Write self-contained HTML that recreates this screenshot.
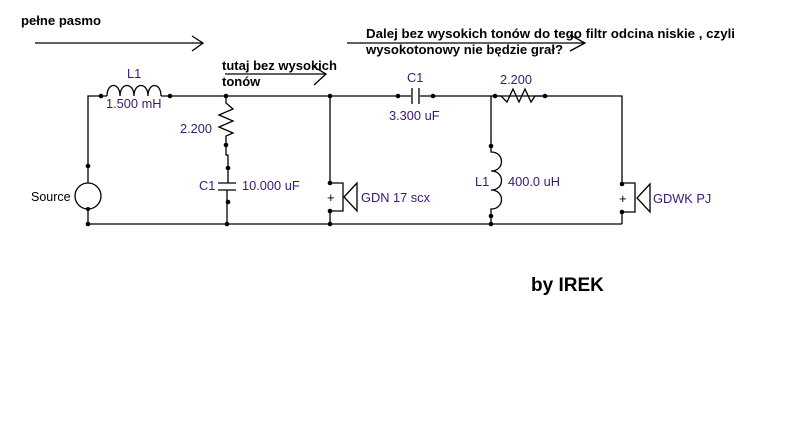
<!DOCTYPE html>
<html><head><meta charset="utf-8"><style>
html,body{margin:0;padding:0;background:#fff;}
svg{display:block;}
text{font-family:"Liberation Sans",sans-serif;}
.b{font-weight:bold;font-size:13px;fill:#000;}
.l{font-size:12.8px;fill:#3a1a70;}
</style></head><body>
<svg width="795" height="428" viewBox="0 0 795 428" xmlns="http://www.w3.org/2000/svg">
<g stroke="#000" stroke-width="1.3" fill="none">
<path d="M35 43H203M192 36L203 43L192 51"/>
<path d="M225 74H326M314 67L326 74L314 85"/>
<path d="M347 43H585M570 35L585 43L570 51"/>
<path d="M88 183V96H101"/>
<circle cx="88" cy="196" r="13"/>
<path d="M88 209V224H622"/>
<path d="M101 96H107 M107 96 C107 82,120 82,120 96 C120 82,134 82,134 96 C134 82,148 82,148 96 C148 82,161 82,161 96 M161 96H170"/>
<path d="M170 96H622V183"/>
<path d="M226 96V103L233 109L219 115L233 121L219 127L233 133L226 136V145V155H228V168V183"/>
<path d="M218 183H236M218 190H236M227 190V224"/>
<path d="M330 96V183H343V211H330V224"/>
<path d="M357 183L344 197L357 211Z"/>
<path d="M495 96L501 96L507 102L513 89L519 102L525 89L531 102L535 96H545"/>
<path d="M491 96V146V152 C505 152,505 171,491 171 C505 171,505 190,491 190 C505 190,505 209,491 209 V224"/>
<path d="M622 183H635V212H622V224"/>
<path d="M650 184L637 198L650 212Z"/>
</g>
<rect x="411" y="90" width="9" height="12" fill="#fff"/>
<path d="M412 88V104M419 88V104" stroke="#000" stroke-width="1.3"/>
<g fill="#000">
<circle cx="88" cy="166" r="2.3"/><circle cx="88" cy="224" r="2.3"/><circle cx="88" cy="209" r="2"/>
<circle cx="101" cy="96" r="2.3"/><circle cx="170" cy="96" r="2.3"/>
<circle cx="226" cy="96" r="2.3"/><circle cx="226" cy="145" r="2.3"/><circle cx="228" cy="168" r="2.3"/><circle cx="228" cy="202" r="2.3"/><circle cx="227" cy="224" r="2.3"/>
<circle cx="330" cy="96" r="2.3"/><circle cx="330" cy="183" r="2.3"/><circle cx="330" cy="211" r="2.3"/><circle cx="330" cy="224" r="2.3"/>
<circle cx="398" cy="96" r="2.3"/><circle cx="433" cy="96" r="2.3"/>
<circle cx="495" cy="96" r="2.3"/><circle cx="545" cy="96" r="2.3"/>
<circle cx="491" cy="146" r="2.3"/><circle cx="491" cy="216" r="2.3"/><circle cx="491" cy="224" r="2.3"/>
<circle cx="622" cy="184" r="2.3"/><circle cx="622" cy="212" r="2.3"/>
</g>
<text class="b" x="21" y="25" textLength="80" lengthAdjust="spacingAndGlyphs">pełne pasmo</text>
<text class="b" x="222" y="70" textLength="115" lengthAdjust="spacingAndGlyphs">tutaj bez wysokich</text>
<text class="b" x="222" y="86">tonów</text>
<text class="b" x="366" y="38" textLength="369" lengthAdjust="spacingAndGlyphs">Dalej bez wysokich tonów do tego filtr odcina niskie , czyli</text>
<text class="b" x="366" y="54" textLength="197" lengthAdjust="spacingAndGlyphs">wysokotonowy nie będzie grał?</text>
<text x="531" y="291" style="font-weight:bold;font-size:19px;fill:#000">by IREK</text>
<text class="l" x="127" y="78">L1</text>
<text class="l" x="106" y="108">1.500 mH</text>
<text class="l" x="180" y="133">2.200</text>
<text class="l" x="199" y="190">C1</text>
<text class="l" x="242" y="190">10.000 uF</text>
<text x="31" y="201" style="font-size:12.5px;fill:#000">Source</text>
<text x="327" y="202" style="font-size:13px;fill:#000">+</text>
<text class="l" x="361" y="202">GDN 17 scx</text>
<text class="l" x="407" y="82">C1</text>
<text class="l" x="389" y="120">3.300 uF</text>
<text class="l" x="500" y="84">2.200</text>
<text class="l" x="475" y="186">L1</text>
<text class="l" x="508" y="186">400.0 uH</text>
<text x="619" y="203" style="font-size:13px;fill:#000">+</text>
<text class="l" x="653" y="203">GDWK PJ</text>
</svg>
</body></html>
